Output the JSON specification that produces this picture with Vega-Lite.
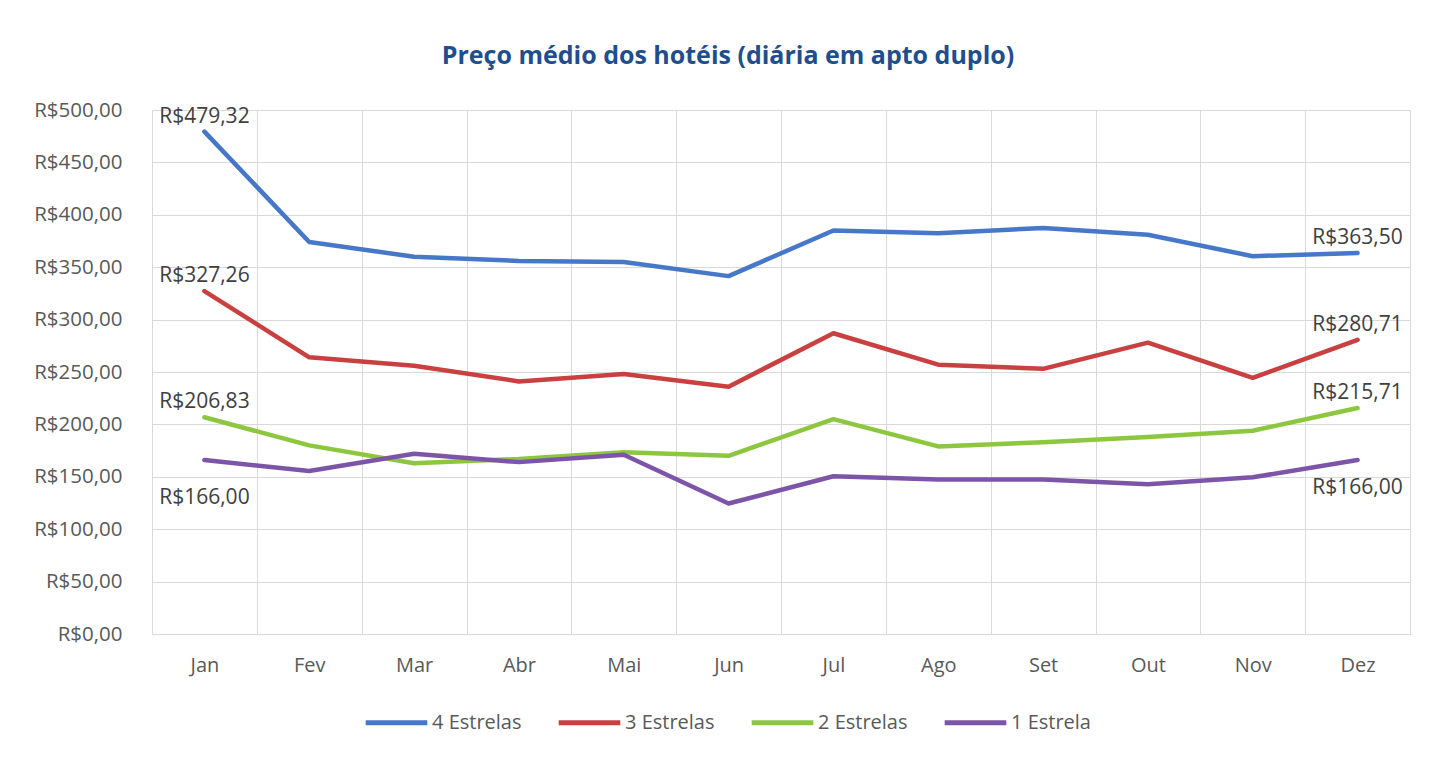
{
  "$schema": "https://vega.github.io/schema/vega-lite/v6.json",
  "autosize": {"type": "none"},
  "width": 1258,
  "height": 524,
  "padding": {"left": 152, "top": 110, "right": 26, "bottom": 129},
  "background": "white",
  "config": {
    "locale": {"number": {"decimal": ",", "thousands": ".", "grouping": [3], "currency": ["R$", ""]}},
    "view": {"stroke": null},
    "font": "Open Sans"
  },
  "title": {
    "text": "Preço médio dos hotéis (diária em apto duplo)",
    "font": "Open Sans",
    "fontSize": 25,
    "fontWeight": "bold",
    "color": "#1F4E8C",
    "anchor": "middle",
    "frame": "group",
    "dx": -53,
    "offset": 31
  },
  "data": {
    "values": [
      {"mes": "Jan", "cat": "4 Estrelas", "preco": 479.32},
      {"mes": "Fev", "cat": "4 Estrelas", "preco": 374},
      {"mes": "Mar", "cat": "4 Estrelas", "preco": 360},
      {"mes": "Abr", "cat": "4 Estrelas", "preco": 356},
      {"mes": "Mai", "cat": "4 Estrelas", "preco": 355},
      {"mes": "Jun", "cat": "4 Estrelas", "preco": 341.5},
      {"mes": "Jul", "cat": "4 Estrelas", "preco": 385},
      {"mes": "Ago", "cat": "4 Estrelas", "preco": 382.5},
      {"mes": "Set", "cat": "4 Estrelas", "preco": 387.5},
      {"mes": "Out", "cat": "4 Estrelas", "preco": 381},
      {"mes": "Nov", "cat": "4 Estrelas", "preco": 360.5},
      {"mes": "Dez", "cat": "4 Estrelas", "preco": 363.5},
      {"mes": "Jan", "cat": "3 Estrelas", "preco": 327.26},
      {"mes": "Fev", "cat": "3 Estrelas", "preco": 264},
      {"mes": "Mar", "cat": "3 Estrelas", "preco": 256},
      {"mes": "Abr", "cat": "3 Estrelas", "preco": 241},
      {"mes": "Mai", "cat": "3 Estrelas", "preco": 248},
      {"mes": "Jun", "cat": "3 Estrelas", "preco": 236},
      {"mes": "Jul", "cat": "3 Estrelas", "preco": 287},
      {"mes": "Ago", "cat": "3 Estrelas", "preco": 257},
      {"mes": "Set", "cat": "3 Estrelas", "preco": 253},
      {"mes": "Out", "cat": "3 Estrelas", "preco": 278},
      {"mes": "Nov", "cat": "3 Estrelas", "preco": 244.5},
      {"mes": "Dez", "cat": "3 Estrelas", "preco": 280.71},
      {"mes": "Jan", "cat": "2 Estrelas", "preco": 206.83},
      {"mes": "Fev", "cat": "2 Estrelas", "preco": 180},
      {"mes": "Mar", "cat": "2 Estrelas", "preco": 163},
      {"mes": "Abr", "cat": "2 Estrelas", "preco": 167},
      {"mes": "Mai", "cat": "2 Estrelas", "preco": 173.5},
      {"mes": "Jun", "cat": "2 Estrelas", "preco": 170},
      {"mes": "Jul", "cat": "2 Estrelas", "preco": 205},
      {"mes": "Ago", "cat": "2 Estrelas", "preco": 179},
      {"mes": "Set", "cat": "2 Estrelas", "preco": 183},
      {"mes": "Out", "cat": "2 Estrelas", "preco": 188},
      {"mes": "Nov", "cat": "2 Estrelas", "preco": 194},
      {"mes": "Dez", "cat": "2 Estrelas", "preco": 215.71},
      {"mes": "Jan", "cat": "1 Estrela", "preco": 166.0},
      {"mes": "Fev", "cat": "1 Estrela", "preco": 155.5},
      {"mes": "Mar", "cat": "1 Estrela", "preco": 172},
      {"mes": "Abr", "cat": "1 Estrela", "preco": 164},
      {"mes": "Mai", "cat": "1 Estrela", "preco": 171},
      {"mes": "Jun", "cat": "1 Estrela", "preco": 124.5},
      {"mes": "Jul", "cat": "1 Estrela", "preco": 150.5},
      {"mes": "Ago", "cat": "1 Estrela", "preco": 147.5},
      {"mes": "Set", "cat": "1 Estrela", "preco": 147.5},
      {"mes": "Out", "cat": "1 Estrela", "preco": 143},
      {"mes": "Nov", "cat": "1 Estrela", "preco": 149.5},
      {"mes": "Dez", "cat": "1 Estrela", "preco": 166.0}
    ]
  },
  "encoding": {
    "x": {
      "field": "mes",
      "type": "ordinal",
      "sort": ["Jan", "Fev", "Mar", "Abr", "Mai", "Jun", "Jul", "Ago", "Set", "Out", "Nov", "Dez"],
      "scale": {"type": "band", "paddingInner": 0, "paddingOuter": 0},
      "bandPosition": 0.5,
      "axis": {
        "title": null,
        "labelAngle": 0,
        "labelFont": "Open Sans",
        "labelFontSize": 20,
        "labelColor": "#595959",
        "labelPadding": 21,
        "ticks": false,
        "grid": true,
        "tickBand": "extent",
        "gridColor": "#D9D9D9",
        "gridWidth": 1,
        "domainColor": "#D9D9D9",
        "domainWidth": 1
      }
    },
    "y": {
      "field": "preco",
      "type": "quantitative",
      "scale": {"domain": [0, 500], "nice": false},
      "axis": {
        "title": null,
        "values": [0, 50, 100, 150, 200, 250, 300, 350, 400, 450, 500],
        "format": "$.2f",
        "labelFont": "Open Sans",
        "labelFontSize": 20.5,
        "labelColor": "#595959",
        "labelPadding": 30,
        "ticks": false,
        "domain": false,
        "gridColor": "#D9D9D9",
        "gridWidth": 1
      }
    }
  },
  "layer": [
    {
      "mark": {"type": "line", "strokeWidth": 4.5, "strokeCap": "round", "strokeJoin": "round"},
      "encoding": {
        "color": {
          "field": "cat",
          "type": "nominal",
          "sort": ["4 Estrelas", "3 Estrelas", "2 Estrelas", "1 Estrela"],
          "scale": {
            "domain": ["4 Estrelas", "3 Estrelas", "2 Estrelas", "1 Estrela"],
            "range": ["#4677C8", "#C94040", "#8DC63F", "#7D55A8"]
          },
          "legend": {
            "title": null,
            "orient": "none",
            "direction": "horizontal",
            "legendX": 211,
            "legendY": 579,
            "symbolType": "stroke",
            "symbolSize": 3800,
            "symbolStrokeWidth": 5,
            "labelFont": "Open Sans",
            "labelFontSize": 20,
            "labelColor": "#595959",
            "labelOffset": 2,
            "columnPadding": 26
          }
        },
        "detail": {"field": "cat"}
      }
    },
    {
      "transform": [{"filter": "(datum.mes == 'Jan' || datum.mes == 'Dez') && datum.cat != '1 Estrela'"}],
      "mark": {"type": "text", "baseline": "alphabetic", "align": "center", "dy": -9, "font": "Open Sans", "fontSize": 21, "color": "#404040"},
      "encoding": {"text": {"field": "preco", "type": "quantitative", "format": "$.2f"}}
    },
    {
      "transform": [{"filter": "datum.mes == 'Jan' && datum.cat == '1 Estrela'"}],
      "mark": {"type": "text", "baseline": "alphabetic", "align": "center", "dy": 44, "font": "Open Sans", "fontSize": 21, "color": "#404040"},
      "encoding": {"text": {"field": "preco", "type": "quantitative", "format": "$.2f"}}
    },
    {
      "transform": [{"filter": "datum.mes == 'Dez' && datum.cat == '1 Estrela'"}],
      "mark": {"type": "text", "baseline": "alphabetic", "align": "center", "dy": 34, "font": "Open Sans", "fontSize": 21, "color": "#404040"},
      "encoding": {"text": {"field": "preco", "type": "quantitative", "format": "$.2f"}}
    }
  ]
}
